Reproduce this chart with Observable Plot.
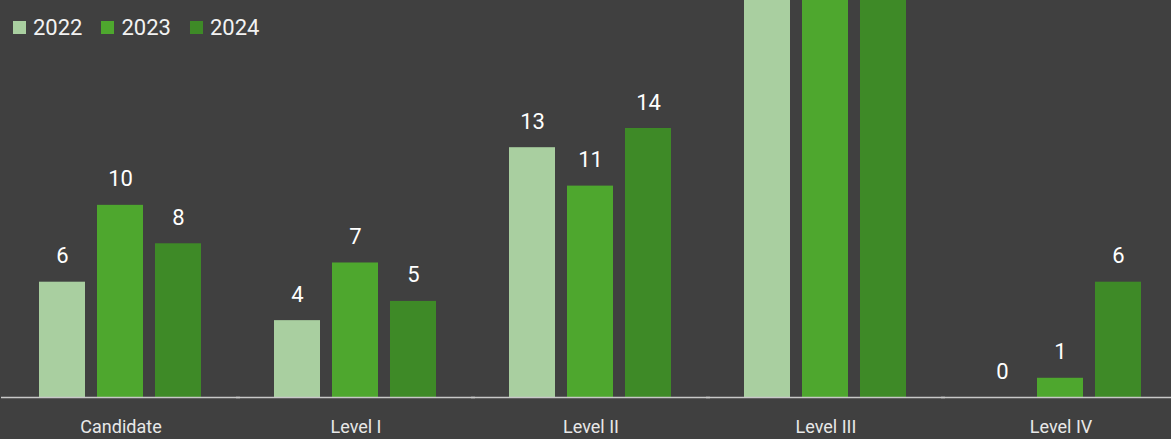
<!DOCTYPE html>
<html>
<head>
<meta charset="utf-8">
<script src="https://cdn.jsdelivr.net/npm/d3@7"></script>
<script src="https://cdn.jsdelivr.net/npm/@observablehq/plot@0.6"></script>
<style>
  html, body { margin: 0; padding: 0; background: #404040; }
  #wrap { position: relative; width: 1171px; height: 439px; overflow: hidden; }
  #legend { position: absolute; left: 13px; top: 11px; }
  #legend > div { font-family: Roboto, sans-serif; font-size: 22px; color: #f2f2f2; }
  #legend span { margin-right: 19px !important; }
  #legend span svg { margin-right: 7px !important; }
</style>
</head>
<body>
<div id="wrap"><div id="chart"></div><div id="legend"></div></div>
<script>
const categories = ["Candidate", "Level I", "Level II", "Level III", "Level IV"];
const years = ["2022", "2023", "2024"];
const values2022 = [6, 4, 13, 23, 0];
const values2023 = [10, 7, 11, 24, 1];
const values2024 = [8, 5, 14, 25, 6];
const colors = ["#a9cfa0", "#4ea72e", "#3e8a27"];

const series = [values2022, values2023, values2024];
const data = [];
categories.forEach((c, i) => years.forEach((y, j) => data.push({category: c, year: y, value: series[j][i]})));

const yMax = 20.66;
const visibleLabels = data.filter(d => d.value < yMax - 2);

const chart = Plot.plot({
  width: 1171,
  height: 439,
  marginTop: 0,
  marginBottom: 42,
  marginLeft: 3,
  marginRight: -7,
  style: {background: "#404040", color: "#f2f2f2", fontFamily: "Roboto, sans-serif", overflow: "hidden"},
  fx: {domain: categories, paddingInner: 0.3, paddingOuter: 0.15, label: null},
  x: {domain: years, axis: null, paddingInner: 0.2, paddingOuter: 0},
  y: {domain: [0, yMax], axis: null},
  color: {domain: years, range: colors},
  marks: [
    Plot.barY(data, {fx: "category", x: "year", y: "value", fill: "year", clip: true}),
    Plot.text(visibleLabels, {fx: "category", x: "year", y: "value", text: d => String(d.value), dy: -26, fill: "#ffffff", fontSize: 22}),
    Plot.ruleY([0], {stroke: "#c8c8c8", strokeWidth: 1.5, insetLeft: -37, insetRight: -37}),
    Plot.axisFx({anchor: "bottom", tickSize: 0, tickPadding: 23, fontSize: 18, fill: "#e8e8e8", label: null})
  ]
});
document.getElementById("chart").appendChild(chart);

const legend = Plot.legend({color: {domain: years, range: colors, type: "ordinal"}, swatchSize: 13, style: {background: "transparent"}});
document.getElementById("legend").appendChild(legend);
</script>
</body>
</html>
